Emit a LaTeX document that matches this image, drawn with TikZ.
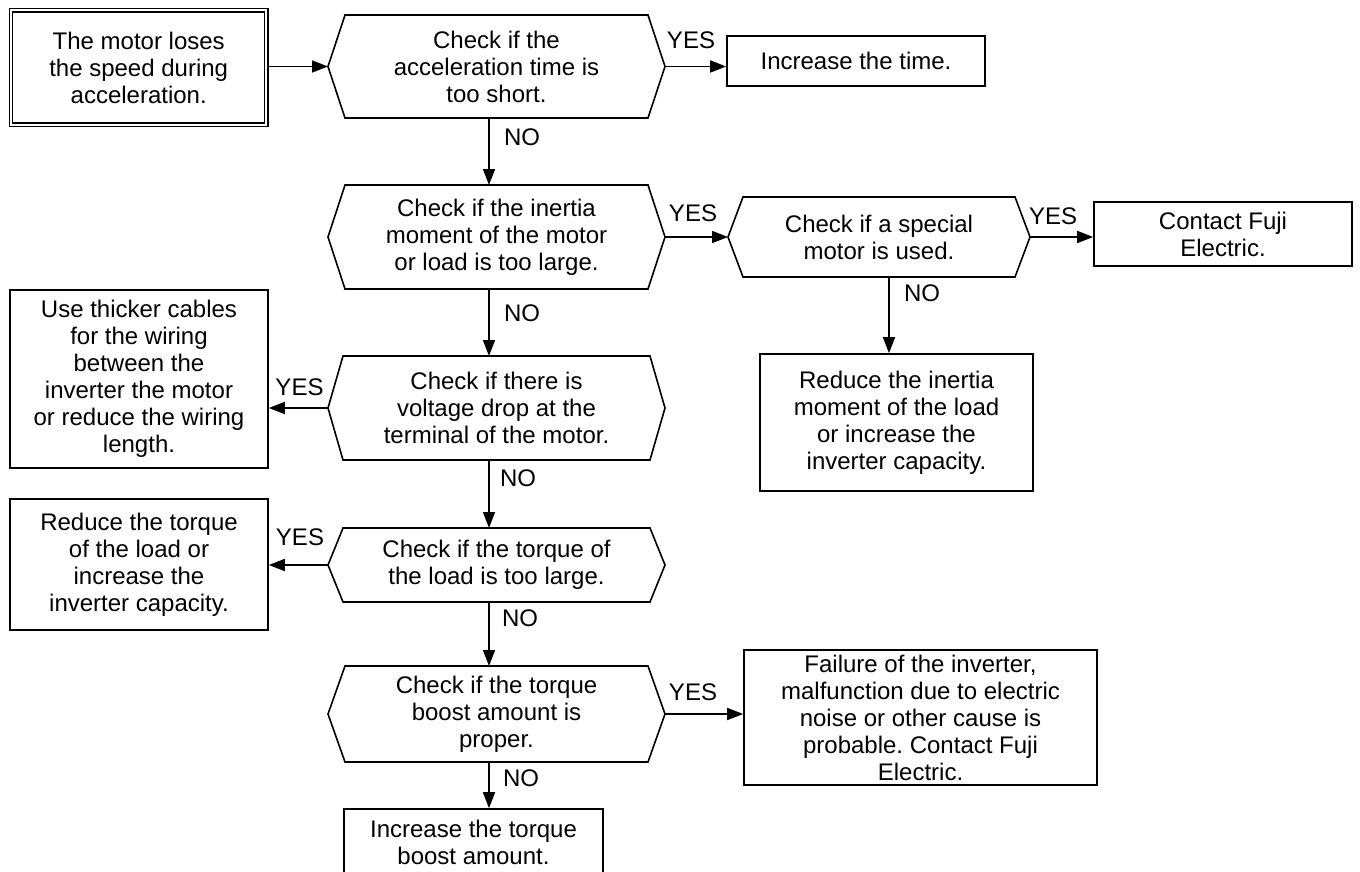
\documentclass[tikz,border=0pt]{standalone}
\usepackage{fontspec}
\setmainfont{Liberation Sans}
\usetikzlibrary{arrows.meta}
\frenchspacing
\newcommand{\drawhex}[2]{\draw[line width=1.6pt,line join=miter] (#1.west) -- ([xshift=#2pt]#1.north west) -- ([xshift=-#2pt]#1.north east) -- (#1.east) -- ([xshift=-#2pt]#1.south east) -- ([xshift=#2pt]#1.south west) -- cycle;}
\begin{document}
\begin{tikzpicture}[x=1pt,y=-1pt,
  txt/.style={font=\fontsize{24}{27}\selectfont, align=center, inner sep=0pt},
  box/.style={txt, draw, line width=1.6pt},
  startbox/.style={txt, draw, double, double distance=2pt, line width=1.3pt, outer sep=2.3pt},
  hexn/.style={txt, outer sep=0pt, minimum width=337pt},
  lbl/.style={font=\fontsize{24}{27}\selectfont, inner sep=0pt},
  arr/.style={line width=1.6pt, -{Triangle[length=16pt,width=12pt]}}
]
\useasboundingbox (0,0) rectangle (1360,872);
\clip (0,0) rectangle (1360,872);
\fill[white] (0,0) rectangle (1360,872);

\node[startbox, minimum width=255.5pt, minimum height=114.5pt] (start) at (138.7,67.5) {The motor loses\\the speed during\\acceleration.};

\node[hexn, minimum height=103pt] (h1) at (496.5,66.5) {Check if the\\acceleration time is\\too short.};
\drawhex{h1}{17}
\node[box, minimum width=258pt, minimum height=50pt] (inc) at (856,61) {Increase the time.};

\node[hexn, minimum height=104pt] (h2) at (496.5,237) {Check if the inertia\\moment of the motor\\or load is too large.};
\drawhex{h2}{17}
\node[hexn, minimum width=302pt, minimum height=80pt] (h3) at (879,237) {Check if a special\\motor is used.};
\drawhex{h3}{15}
\node[box, minimum width=258pt, minimum height=64pt] (contact) at (1223,234) {Contact Fuji\\Electric.};
\node[box, minimum width=273pt, minimum height=137pt] (inertia) at (896.5,422.5) {Reduce the inertia\\moment of the load\\or increase the\\inverter capacity.};

\node[hexn, minimum height=104pt] (h4) at (496.5,408) {Check if there is\\voltage drop at the\\terminal of the motor.};
\drawhex{h4}{15}
\node[box, minimum width=258pt, minimum height=178pt] (cables) at (139,379) {Use thicker cables\\for the wiring\\between the\\inverter the motor\\or reduce the wiring\\length.};

\node[hexn, minimum height=74pt] (h5) at (496.5,565) {Check if the torque of\\the load is too large.};
\drawhex{h5}{15}
\node[box, minimum width=258pt, minimum height=131pt] (torque) at (139,564.5) {Reduce the torque\\of the load or\\increase the\\inverter capacity.};

\node[hexn, minimum height=96pt] (h6) at (496.5,714) {Check if the torque\\boost amount is\\proper.};
\drawhex{h6}{17}
\node[box, minimum width=353pt, minimum height=135pt] (failure) at (920.5,717.5) {Failure of the inverter,\\malfunction due to electric\\noise or other cause is\\probable. Contact Fuji\\Electric.};
\node[box, minimum width=259pt, minimum height=66pt] (boost) at (473.5,842) {Increase the torque\\boost amount.};

% connectors
\draw[arr] (start.east |- h1.west) -- (h1.west);
\draw[arr] (h1.east) -- (h1.east -| inc.west);
\draw[arr] ([xshift=-7.5pt]h1.south) -- ([xshift=-7.5pt]h2.north);
\draw[arr] (h2.east) -- (h3.west);
\draw[arr] (h3.east) -- (h3.east -| contact.west);
\draw[arr] ([xshift=10pt]h3.south) -- ([xshift=10pt]h3.south |- inertia.north);
\draw[arr] ([xshift=-7.5pt]h2.south) -- ([xshift=-7.5pt]h4.north);
\draw[arr] (h4.west) -- (h4.west -| cables.east);
\draw[arr] ([xshift=-7.5pt]h4.south) -- ([xshift=-7.5pt]h5.north);
\draw[arr] (h5.west) -- (h5.west -| torque.east);
\draw[arr] ([xshift=-7.5pt]h5.south) -- ([xshift=-7.5pt]h6.north);
\draw[arr] (h6.east) -- (h6.east -| failure.west);
\draw[arr] ([xshift=-7.5pt]h6.south) -- ([xshift=-7.5pt]h6.south |- boost.north);

% labels
\node[lbl] (yes1) at (691,40) {YES};
\node[lbl] (no1) at (522,137) {NO};
\node[lbl] (yes2) at (693,213) {YES};
\node[lbl] (yes3) at (1053,216) {YES};
\node[lbl] (no6) at (922,293) {NO};
\node[lbl] (no2) at (522,313) {NO};
\node[lbl] (yes4) at (299.5,387) {YES};
\node[lbl] (no3) at (518,478) {NO};
\node[lbl] (yes5) at (300,537) {YES};
\node[lbl] (no4) at (520,618) {NO};
\node[lbl] (yes6) at (693,692) {YES};
\node[lbl] (no5) at (521,778) {NO};
\end{tikzpicture}
\end{document}
